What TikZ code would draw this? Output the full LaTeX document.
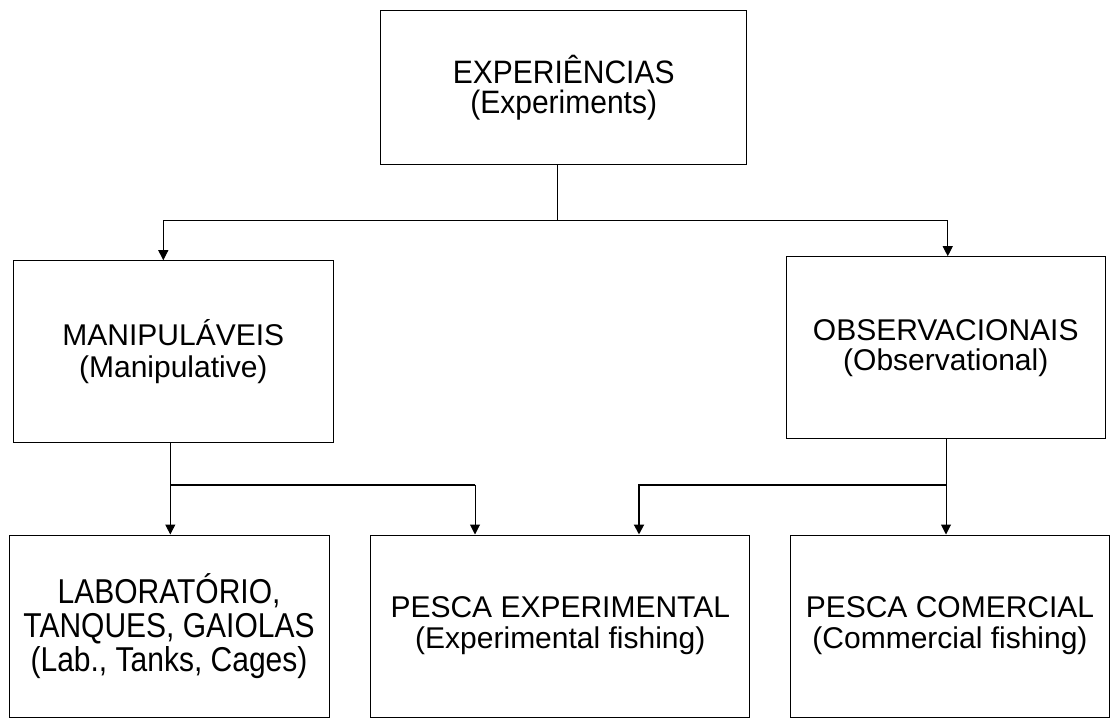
\documentclass[tikz,border=0pt]{standalone}
\usepackage{fontspec}
\usepackage{graphicx}
\setmainfont{Liberation Sans}
\usetikzlibrary{arrows.meta,calc}
\newcommand\vstr[3]{\scalebox{1}[#1]{\vbox{\baselineskip=#2pt\lineskiplimit=-100pt\lineskip=0pt\halign{\hfil##\hfil\cr#3\crcr}}}}
\begin{document}
\begin{tikzpicture}[x=1pt,y=-1pt,
  box/.style={draw=black,line width=1pt,inner sep=0pt,
    font=\fontsize{30}{32}\selectfont},
  conn/.style={draw=black,line width=1pt},
  thick conn/.style={draw=black,line width=2pt},
  arr/.style={-{Triangle[length=10pt,width=10pt]}}]
\useasboundingbox (0,0) rectangle (1112,719);
\fill[white] (0,0) rectangle (1112,719);
% nodes
\node[box,minimum width=366pt,minimum height=154pt] (top) at (563.7,87.8) {\vstr{1.08}{27.8}{EXPERIÊNCIAS\cr (Experiments)}};
\node[box,minimum width=320pt,minimum height=182pt] (manip) at (173.3,351.7) {\vstr{1}{32}{MANIPULÁVEIS\cr (Manipulative)}};
\node[box,minimum width=319.5pt,minimum height=182.3pt] (obs) at (945.75,347.85) {\vstr{1}{30}{OBSERVACIONAIS\cr (Observational)}};
\node[box,minimum width=320pt,minimum height=182pt] (lab) at (169,626) {\vstr{1.15}{29.6}{LABORATÓRIO,\cr TANQUES, GAIOLAS\cr (Lab., Tanks, Cages)}};
\node[box,minimum width=379.3pt,minimum height=182pt] (pexp) at (560.3,626) {\vstr{1}{31}{PESCA EXPERIMENTAL\cr (Experimental fishing)}};
\node[box,minimum width=318.6pt,minimum height=182pt] (pcom) at (950,626) {\vstr{1}{31}{PESCA COMERCIAL\cr (Commercial fishing)}};
% junctions
\coordinate (j1) at (557.7,221);
\coordinate (jl) at (170.3,484.5);
\coordinate (jr) at (946,484.5);
% top split
\draw[conn] (j1 |- top.south) -- (j1);
\draw[conn,arr] (j1) -| ([xshift=-10pt]manip.north);
\draw[conn,arr] (j1) -| ([xshift=2pt]obs.north);
% left split
\draw[conn,arr] (jl |- manip.south) -- (jl |- lab.north);
\draw[thick conn] (jl) -- (475,484.5);
\draw[conn,arr] (475,484.5) -- ([xshift=-85.3pt]pexp.north);
% right split
\draw[conn,arr] (jr |- obs.south) -- (jr |- pcom.north);
\draw[thick conn,arr] (jr) -| ([xshift=78.7pt]pexp.north);
\end{tikzpicture}
\end{document}
